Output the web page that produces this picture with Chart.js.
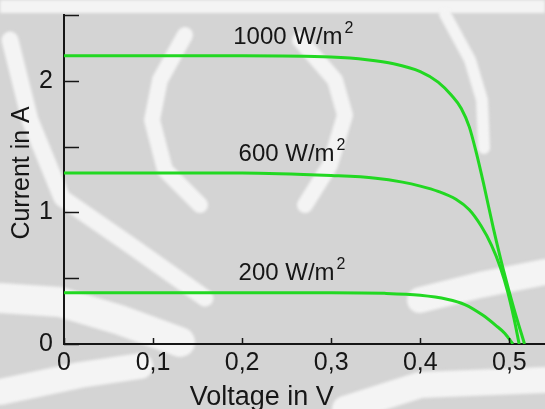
<!DOCTYPE html>
<html>
<head>
<meta charset="utf-8">
<script src="https://cdn.jsdelivr.net/npm/chart.js@4"></script>
<style>
  html, body { margin: 0; padding: 0; background: #d4d4d4; }
  #wrap { width: 545px; height: 409px; position: relative; }
</style>
</head>
<body>
<div id="wrap"><canvas id="ivChart"></canvas></div>
<script>
// I-V curves of a solar cell at three irradiance levels
const series = ['1000 W/m', '600 W/m', '200 W/m'];

const v1000 = [0, 0.1, 0.2, 0.3, 0.34, 0.37, 0.40, 0.42, 0.435, 0.446, 0.455, 0.463, 0.471, 0.482, 0.493, 0.505, 0.517];
const i1000 = [2.19, 2.19, 2.19, 2.18, 2.16, 2.13, 2.07, 1.99, 1.89, 1.79, 1.65, 1.45, 1.22, 0.88, 0.57, 0.27, 0];

const v600 = [0, 0.1, 0.2, 0.3, 0.35, 0.38, 0.40, 0.42, 0.44, 0.455, 0.468, 0.48, 0.49, 0.498, 0.505, 0.511];
const i600 = [1.30, 1.30, 1.30, 1.28, 1.26, 1.23, 1.20, 1.16, 1.10, 1.02, 0.90, 0.75, 0.58, 0.40, 0.20, 0];

const v200 = [0, 0.1, 0.2, 0.3, 0.36, 0.40, 0.43, 0.45, 0.47, 0.485, 0.495, 0.504];
const i200 = [0.39, 0.39, 0.39, 0.39, 0.385, 0.37, 0.34, 0.30, 0.22, 0.14, 0.08, 0];

const xTicks = [0, 0.1, 0.2, 0.3, 0.4, 0.5];
const xTickLabels = ['0', '0,1', '0,2', '0,3', '0,4', '0,5'];
const yTicks = [0, 0.5, 1, 1.5, 2, 2.5];
const yTickLabels = ['0', '', '1', '', '2', ''];

// where each curve label sits, in data units (left edge, baseline)
const labelV = [0.19, 0.196, 0.196];
const labelI = [2.28, 1.39, 0.49];

const GREEN = '#22d822';
const INK = '#161616';
const FONT = "'Liberation Sans', Arial, Helvetica, sans-serif";

function toPoints(xs, ys) {
    return xs.map((x, k) => ({ x: x, y: ys[k] }));
}

// faint watermark behind the plot
const watermark = {
    id: 'watermark',
    beforeDraw(chart) {
        const c = chart.ctx;
        const W = chart.width, H = chart.height;
        c.save();
        c.fillStyle = '#d4d4d4';
        c.fillRect(0, 0, W, H);
        c.filter = 'blur(1.5px)';
        c.fillStyle = '#f4f4f4';
        c.strokeStyle = '#f4f4f4';
        c.fillRect(0, 0, W, 13);
        const bands = [
            [17, [[10, 40], [30, 120], [62, 198], [130, 245], [205, 298]]],
            [30, [[0, 298], [60, 302], [120, 320], [180, 342]]],
            [26, [[0, 392], [80, 375], [140, 366]]],
            [16, [[185, 35], [160, 80], [152, 120], [165, 170], [200, 205]]],
            [16, [[300, 40], [335, 80], [345, 115], [330, 165], [305, 205]]],
            [12, [[445, 14], [470, 60], [482, 100], [484, 148]]],
            [26, [[420, 300], [480, 285], [545, 272]]],
            [26, [[345, 409], [420, 385], [545, 380]]]
        ];
        bands.forEach(([w, pts]) => {
            c.lineWidth = w;
            c.lineCap = 'round';
            c.lineJoin = 'round';
            c.beginPath();
            pts.forEach((p, k) => k ? c.lineTo(p[0], p[1]) : c.moveTo(p[0], p[1]));
            c.stroke();
        });
        c.restore();
    }
};

// tick marks drawn inward, curve labels and the axis titles
const decorations = {
    id: 'decorations',
    afterDraw(chart) {
        const c = chart.ctx;
        const xs = chart.scales.x, ys = chart.scales.y;
        const area = chart.chartArea;
        c.save();
        c.strokeStyle = INK;
        c.lineWidth = 1.5;
        c.beginPath();
        yTicks.forEach(v => {
            const py = Math.round(ys.getPixelForValue(v)) + 0.5;
            c.moveTo(area.left, py);
            c.lineTo(area.left + 15, py);
        });
        xTicks.forEach(v => {
            const px = Math.round(xs.getPixelForValue(v)) + 0.5;
            c.moveTo(px, area.bottom);
            c.lineTo(px, area.bottom - 6);
        });
        c.stroke();

        c.fillStyle = INK;
        c.textBaseline = 'alphabetic';
        c.textAlign = 'left';
        series.forEach((name, k) => {
            const px = xs.getPixelForValue(labelV[k]);
            const py = ys.getPixelForValue(labelI[k]);
            c.font = '24px ' + FONT;
            c.fillText(name, px, py);
            const w = c.measureText(name).width;
            c.font = '16px ' + FONT;
            c.fillText('2', px + w + 2, py - 11);
        });

        c.textAlign = 'center';
        c.textBaseline = 'middle';
        c.font = '27px ' + FONT;
        c.fillText('Voltage in V', xs.getPixelForValue(0.222), chart.height - 11);

        c.font = '25px ' + FONT;
        c.translate(22, ys.getPixelForValue(1.3));
        c.rotate(-Math.PI / 2);
        c.fillText('Current in A', 0, 0);
        c.restore();
    }
};

const ctx = document.getElementById('ivChart');

new Chart(ctx, {
    type: 'line',
    data: {
        datasets: [
            { label: series[0], data: toPoints(v1000, i1000) },
            { label: series[1], data: toPoints(v600, i600) },
            { label: series[2], data: toPoints(v200, i200) }
        ].map(ds => Object.assign(ds, {
            borderColor: GREEN,
            borderWidth: 3,
            pointRadius: 0,
            fill: false,
            cubicInterpolationMode: 'monotone'
        }))
    },
    options: {
        responsive: true,
        maintainAspectRatio: false,
        animation: false,
        layout: { padding: { top: 15, left: 0, right: 0, bottom: 0 } },
        scales: {
            x: {
                type: 'linear',
                min: 0,
                max: 0.54,
                afterBuildTicks: scale => { scale.ticks = xTicks.map(v => ({ value: v })); },
                afterFit: scale => {
                    scale.height = 65;
                    scale.paddingLeft = 0;
                    scale.paddingRight = 0;
                },
                grid: { display: false, drawTicks: false },
                border: { display: true, color: INK, width: 2 },
                ticks: {
                    color: INK,
                    padding: 4,
                    maxRotation: 0,
                    autoSkip: false,
                    font: { family: FONT, size: 25 },
                    callback: (value) => xTickLabels[xTicks.indexOf(value)]
                }
            },
            y: {
                min: 0,
                max: 2.5,
                afterBuildTicks: scale => { scale.ticks = yTicks.map(v => ({ value: v })); },
                afterFit: scale => {
                    scale.width = 64;
                    scale.paddingTop = 0;
                    scale.paddingBottom = 0;
                },
                grid: { display: false, drawTicks: false },
                border: { display: true, color: INK, width: 2 },
                ticks: {
                    color: INK,
                    padding: 11,
                    autoSkip: false,
                    font: { family: FONT, size: 25 },
                    callback: (value) => yTickLabels[yTicks.indexOf(value)]
                }
            }
        },
        plugins: {
            legend: { display: false },
            tooltip: { enabled: false }
        }
    },
    plugins: [watermark, decorations]
});
</script>
</body>
</html>
